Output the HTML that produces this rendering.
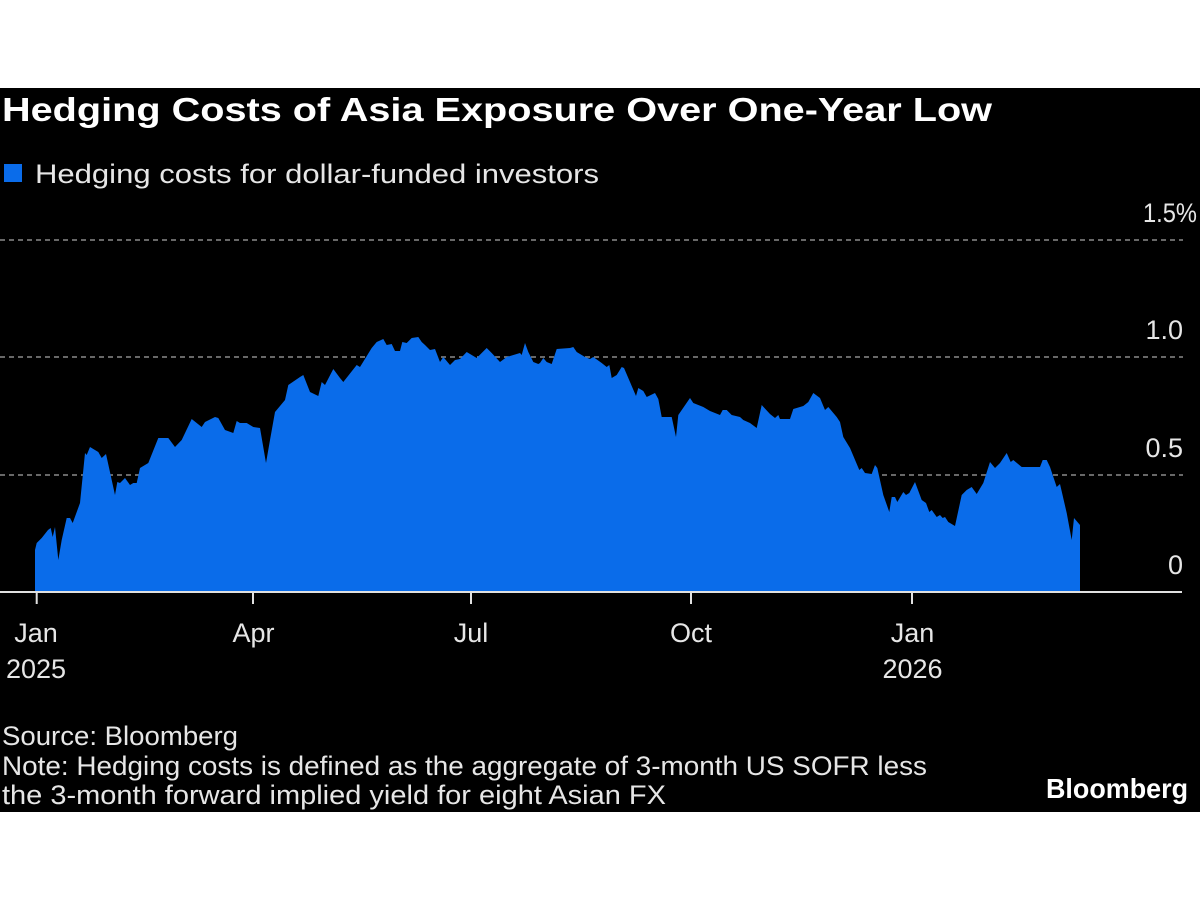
<!DOCTYPE html>
<html>
<head>
<meta charset="utf-8">
<style>
  html, body { margin: 0; padding: 0; background: #ffffff; }
  body { width: 1200px; height: 900px; overflow: hidden; }
  svg { display: block; }
  .t { font-family: "Liberation Sans", "DejaVu Sans", sans-serif; fill: #e6e6e6; }
</style>
</head>
<body>
<svg width="1200" height="900" viewBox="0 0 1200 900" xmlns="http://www.w3.org/2000/svg">
  <rect x="0" y="0" width="1200" height="900" fill="#ffffff"/>
  <rect x="0" y="88" width="1200" height="724" fill="#000000"/>

  <!-- Title -->
  <text class="t" x="2" y="121" font-size="33" font-weight="bold" fill="#ffffff" style="fill:#ffffff" textLength="990" lengthAdjust="spacingAndGlyphs">Hedging Costs of Asia Exposure Over One-Year Low</text>

  <!-- Legend -->
  <rect x="4" y="164" width="18" height="18" fill="#0a6cea"/>
  <text class="t" x="35" y="183" font-size="27" textLength="564" lengthAdjust="spacingAndGlyphs">Hedging costs for dollar-funded investors</text>

  <!-- Gridlines -->
  <g stroke="#8a8a8a" stroke-width="1.5" stroke-dasharray="5,4">
    <line x1="0" y1="240" x2="1183" y2="240"/>
    <line x1="0" y1="357" x2="1183" y2="357"/>
    <line x1="0" y1="475" x2="1183" y2="475"/>
  </g>

  <!-- Y labels -->
  <text class="t" x="1143" y="222" font-size="27" textLength="54" lengthAdjust="spacingAndGlyphs">1.5%</text>
  <text class="t" x="1183" y="339" font-size="27" text-anchor="end">1.0</text>
  <text class="t" x="1183" y="457" font-size="27" text-anchor="end">0.5</text>
  <text class="t" x="1183" y="574" font-size="27" text-anchor="end">0</text>

  <!-- Area -->
  <polygon fill="#0a6cea" points="
35,592 35,550 36.7,543 41.7,538 48,530 50.7,528 52.7,537 55,527 58.3,560 61.7,540 66.7,518 70,518 72.7,523 80,503 85,453 86.7,455 90,447 98.3,452 101.7,458 106,454 115,495 117.3,482 120,483 125,478 130,485 133.3,483 136.7,483 140,468 148.3,463 158.3,438 168.3,438 175,447 181.7,440 191.7,419 201.7,427 205,422 215,417 218.3,418 225,430 233.3,433 236.7,421 240,423 246.7,423 253.3,427 260,428 266,463 270,440 275,412 285,400 288.3,385 300,377
303.3,375 310,392 318.3,396 321.7,382 325,385 333.3,369 340,378 343.3,382 356.7,365 360,367 371.7,348 376.7,342 383.3,339 386.7,345 391.7,344 395,351 400,351 402.3,342 406.7,343 411.7,338 418.3,337 421.7,342 425,345 430,350 435,349 440,362 443.3,357 450,365 455,360 460,359 466.7,352 476.7,358 486.7,348 491.7,353 500,362 506.7,357 520,353 521.7,355 525,343 528.3,352 533.3,362 538.3,364 540,363 543.3,358 546.7,362 551.7,364 556.7,349
570,348 573.3,347 576.7,352 585,357 590,359 593.3,357 601.7,363 606.7,367 609.3,365 611.7,378 616.7,375 621.7,367 624,368 630,382 636,396 638.3,388 643.3,391 646.7,397 655,393 658.3,399 661.7,417 671.7,417 676,437 678.3,415 690,398 693.3,403 703.3,407 710,411 720,415 722.7,410 726.7,410 731.7,415 740,417 743.3,420 750,423 756.7,428 761.7,405 770,414 775,418 778.3,415 780,419 790,419 793.3,409 803.3,406 808.3,402 813.3,393 820,398 825,410 828.3,407 836.7,417 840,422 843.3,437 850,448 859.3,470 861.7,468 865,473 871.7,474 875,465 877.3,468 883.3,495 889.3,512 891.7,497 895,497 897.3,502 903.3,492 906,495 909.3,493 915,482 921.7,500 926,503 929.3,512 931.7,510 936.7,517 940,515 942.7,518 945,517 948.3,522 955,526 961.7,495 966.7,490 971.7,487 976.7,494 983.3,483 990,462 995,468 1000,463 1006.7,453 1010.7,462 1013.3,460 1021.7,467 1026.7,467 1040,467 1042.7,460 1046.7,460 1050,467 1056.7,487 1060,484 1066.7,513 1071.7,540 1074,518 1080,525 1080,592"/>

  <!-- Zero axis -->
  <line x1="0" y1="592" x2="1182" y2="592" stroke="#e0e0e0" stroke-width="2"/>

  <!-- Ticks -->
  <g stroke="#e0e0e0" stroke-width="2">
    <line x1="36.7" y1="592" x2="36.7" y2="604"/>
    <line x1="253" y1="592" x2="253" y2="604"/>
    <line x1="471" y1="592" x2="471" y2="604"/>
    <line x1="691" y1="592" x2="691" y2="604"/>
    <line x1="912" y1="592" x2="912" y2="604"/>
  </g>

  <!-- X labels -->
  <g class="t" font-size="27" text-anchor="middle">
    <text class="t" x="36" y="642" text-anchor="middle">Jan</text>
    <text class="t" x="36" y="678" text-anchor="middle">2025</text>
    <text class="t" x="253.5" y="642" text-anchor="middle">Apr</text>
    <text class="t" x="471" y="642" text-anchor="middle">Jul</text>
    <text class="t" x="691" y="642" text-anchor="middle">Oct</text>
    <text class="t" x="912.5" y="642" text-anchor="middle">Jan</text>
    <text class="t" x="912.5" y="678" text-anchor="middle">2026</text>
  </g>

  <!-- Footer -->
  <text class="t" x="2" y="745" font-size="27" textLength="236" lengthAdjust="spacingAndGlyphs">Source: Bloomberg</text>
  <text class="t" x="2" y="775" font-size="27" textLength="925" lengthAdjust="spacingAndGlyphs">Note: Hedging costs is defined as the aggregate of 3-month US SOFR less</text>
  <text class="t" x="2" y="804" font-size="27" textLength="664" lengthAdjust="spacingAndGlyphs">the 3-month forward implied yield for eight Asian FX</text>

  <text x="1046" y="798" font-family="Liberation Sans, DejaVu Sans, sans-serif" font-size="28" font-weight="bold" fill="#ffffff" textLength="142" lengthAdjust="spacingAndGlyphs">Bloomberg</text>
</svg>
</body>
</html>
